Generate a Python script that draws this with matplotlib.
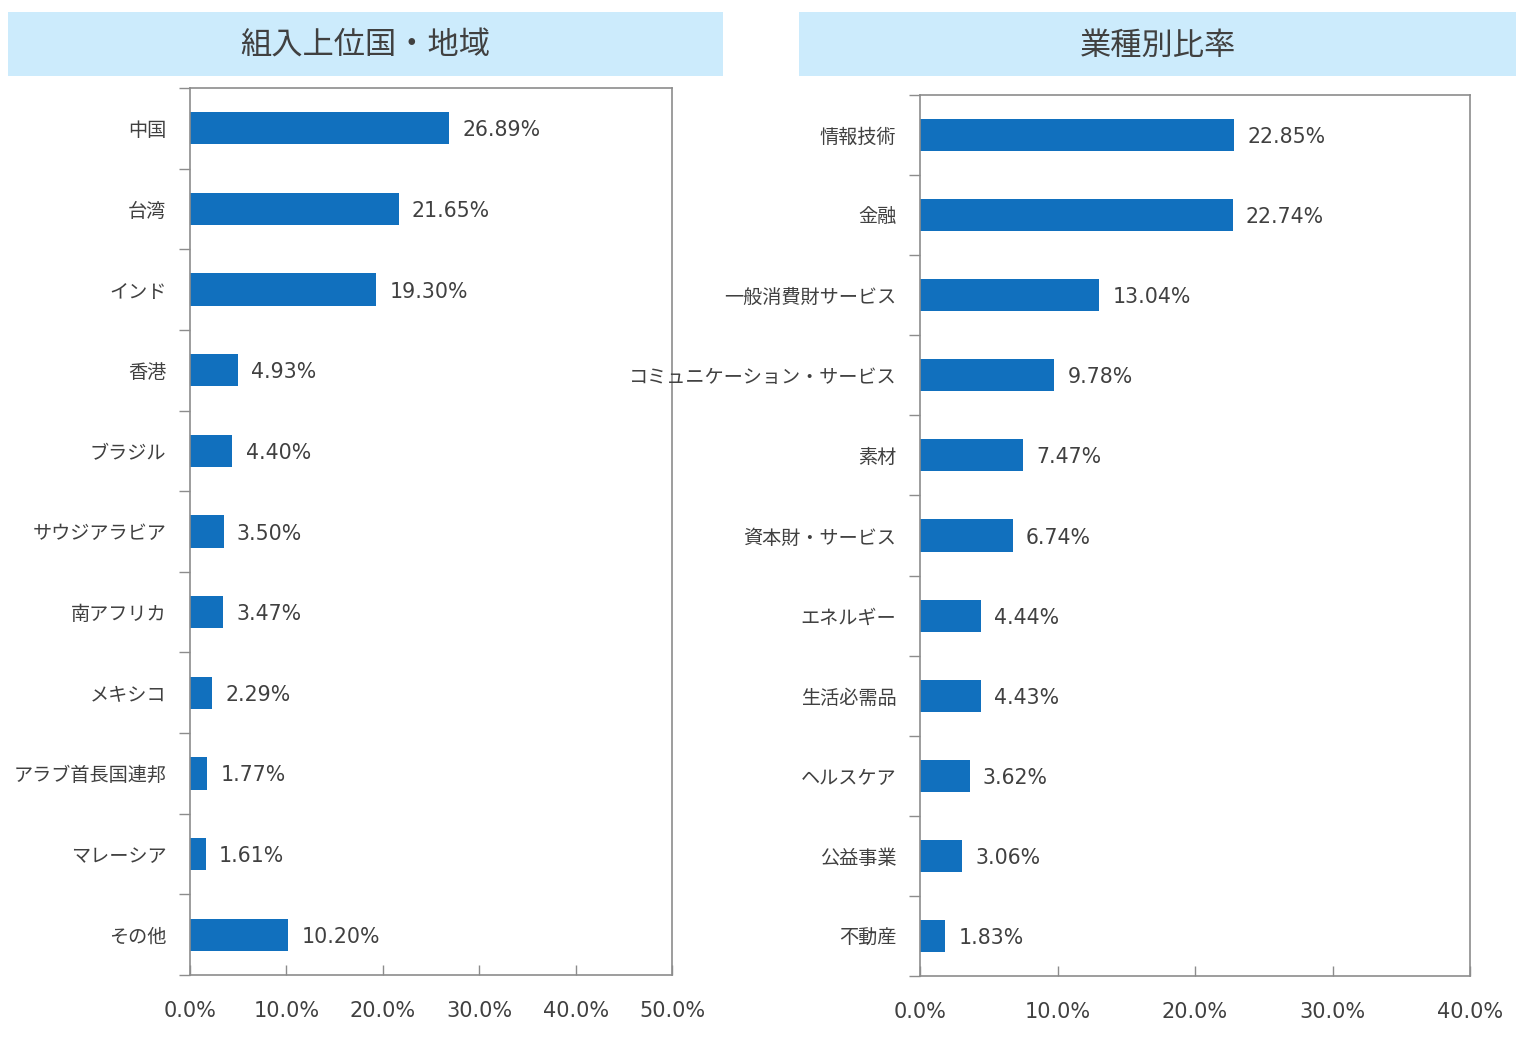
import matplotlib
matplotlib.use("Agg")
import matplotlib.pyplot as plt
from matplotlib.patches import Rectangle
from matplotlib.ticker import FixedLocator, PercentFormatter
from matplotlib.transforms import offset_copy

plt.rcParams['font.family'] = ['Noto Sans CJK JP', 'DejaVu Sans']

left_title = "組入上位国・地域"
left_cats = ["中国", "台湾", "インド", "香港", "ブラジル", "サウジアラビア", "南アフリカ",
             "メキシコ", "アラブ首長国連邦", "マレーシア", "その他"]
left_vals = [26.89, 21.65, 19.30, 4.93, 4.40, 3.50, 3.47, 2.29, 1.77, 1.61, 10.20]
left_xticks = [0, 10, 20, 30, 40, 50]

right_title = "業種別比率"
right_cats = ["情報技術", "金融", "一般消費財サービス", "コミュニケーション・サービス", "素材",
              "資本財・サービス", "エネルギー", "生活必需品", "ヘルスケア", "公益事業", "不動産"]
right_vals = [22.85, 22.74, 13.04, 9.78, 7.47, 6.74, 4.44, 4.43, 3.62, 3.06, 1.83]
right_xticks = [0, 10, 20, 30, 40]

W, H = 1528, 1038
fig = plt.figure(figsize=(W / 100, H / 100), dpi=100)

BAR = '#1170BE'
TXT = '#404040'
SPINE = '#8C8C8C'
BOX = '#CCEBFC'


def panel(rect_px, title_px, title, cats, vals, xticks):
    x0, y0, x1, y1 = rect_px
    ax = fig.add_axes([x0 / W, 1 - y1 / H, (x1 - x0) / W, (y1 - y0) / H])
    n = len(cats)
    pos = list(range(n))
    ax.barh(pos, vals, height=0.4, color=BAR)
    ax.set_ylim(n - 0.5, -0.5)
    ax.set_xlim(xticks[0], xticks[-1])
    # boundaries ticks (major) and labels at centres (minor)
    ax.yaxis.set_major_locator(FixedLocator([i - 0.5 for i in range(n + 1)]))
    ax.yaxis.set_minor_locator(FixedLocator(pos))
    ax.set_yticklabels([], minor=False)
    ax.set_yticklabels(cats, minor=True)
    ax.tick_params(axis='y', which='major', direction='out', length=8, color=SPINE, width=1)
    ax.tick_params(axis='y', which='minor', length=0, pad=17, labelsize=13.8, labelcolor=TXT)
    ax.set_xticks(xticks)
    ax.xaxis.set_major_formatter(PercentFormatter(decimals=1))
    ax.tick_params(axis='x', direction='in', length=7, color=SPINE, width=1, pad=19,
                   labelsize=15, labelcolor=TXT)
    for lab in ax.get_xticklabels():
        lab.set_family('DejaVu Sans')
    for s in ax.spines.values():
        s.set_color(SPINE)
        s.set_linewidth(1.2)
    tr = offset_copy(ax.transData, fig=fig, x=9.5, y=0, units='points')
    for i, v in enumerate(vals):
        ax.text(v, i, f"{v:.2f}%", transform=tr, va='center_baseline', ha='left',
                fontsize=14.8, color=TXT, family='DejaVu Sans')
    # title box
    tx0, ty0, tx1, ty1 = title_px
    fig.patches.append(Rectangle((tx0 / W, 1 - ty1 / H), (tx1 - tx0) / W, (ty1 - ty0) / H,
                                 transform=fig.transFigure, facecolor=BOX, edgecolor='none',
                                 zorder=0))
    fig.text((tx0 + tx1) / 2 / W, 1 - ((ty0 + ty1) / 2 + 2) / H, title, ha='center',
             va='center', fontsize=22.5, color=TXT)
    return ax


panel((190, 88, 672, 975), (8, 12, 723, 76), left_title, left_cats, left_vals, left_xticks)
panel((920, 95, 1470, 976), (799, 12, 1516, 76), right_title, right_cats, right_vals, right_xticks)

fig.savefig("out.png", dpi=100, facecolor='white')
